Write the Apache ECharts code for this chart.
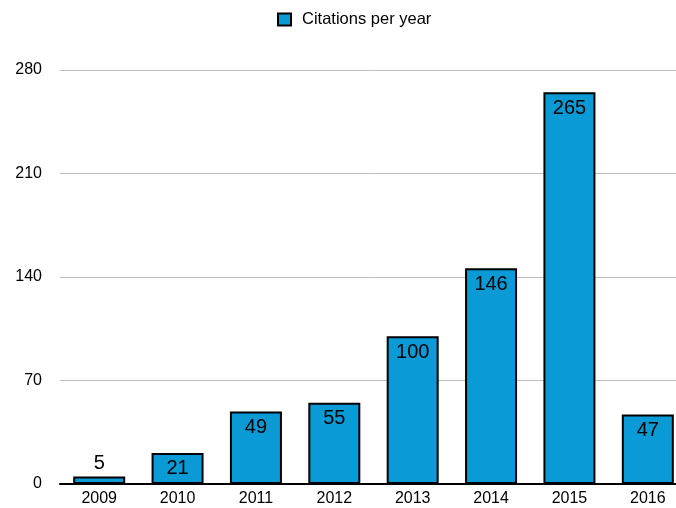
<!DOCTYPE html>
<html>
<head>
<meta charset="utf-8">
<script src="https://cdn.jsdelivr.net/npm/echarts@6/dist/echarts.min.js"></script>
<style>
  html, body { margin: 0; padding: 0; background: #fff; overflow: hidden; }
  /* plot runs past the right edge in the original, so the canvas is wider than the window */
  #chart { width: 687px; height: 508px; }
</style>
</head>
<body>
<div id="chart"></div>
<script>
const years = ['2009', '2010', '2011', '2012', '2013', '2014', '2015', '2016']
const citations = [5, 21, 49, 55, 100, 146, 265, 47]
const seriesName = 'Citations per year'

const chart = echarts.init(document.getElementById('chart'))

chart.setOption({
  backgroundColor: '#fff',
  animation: false,
  textStyle: { fontFamily: 'Liberation Sans, Arial, sans-serif' },
  legend: {
    top: 6,
    left: 272,
    icon: 'rect',
    itemWidth: 13,
    itemHeight: 12,
    textStyle: { color: '#000', fontSize: 16.5, padding: [0, 0, 0, 6] },
    data: [seriesName],
  },
  grid: { left: 60, right: 0, top: 70, bottom: 24 },
  xAxis: {
    type: 'category',
    data: years,
    axisLine: { lineStyle: { color: '#000', width: 2 } },
    axisTick: { show: false },
    axisLabel: { color: '#000', fontSize: 16, margin: 7 },
  },
  yAxis: {
    type: 'value',
    min: 0,
    max: 280,
    interval: 70,
    axisLine: { show: false },
    axisTick: { show: false },
    splitLine: { lineStyle: { color: '#bdbdbd', width: 1 } },
    axisLabel: { color: '#000', fontSize: 16, margin: 18 },
  },
  series: [
    {
      name: seriesName,
      type: 'bar',
      barWidth: 52,
      data: citations.map((v) => ({
        value: v,
        label: { position: v < 15 ? 'top' : 'insideTop', distance: v < 15 ? 3 : 6 },
      })),
      itemStyle: { color: '#0A9AD6', borderColor: '#000', borderWidth: 2 },
      label: {
        show: true,
        color: '#000',
        fontSize: 20,
      },
    },
  ],
})
</script>
</body>
</html>
